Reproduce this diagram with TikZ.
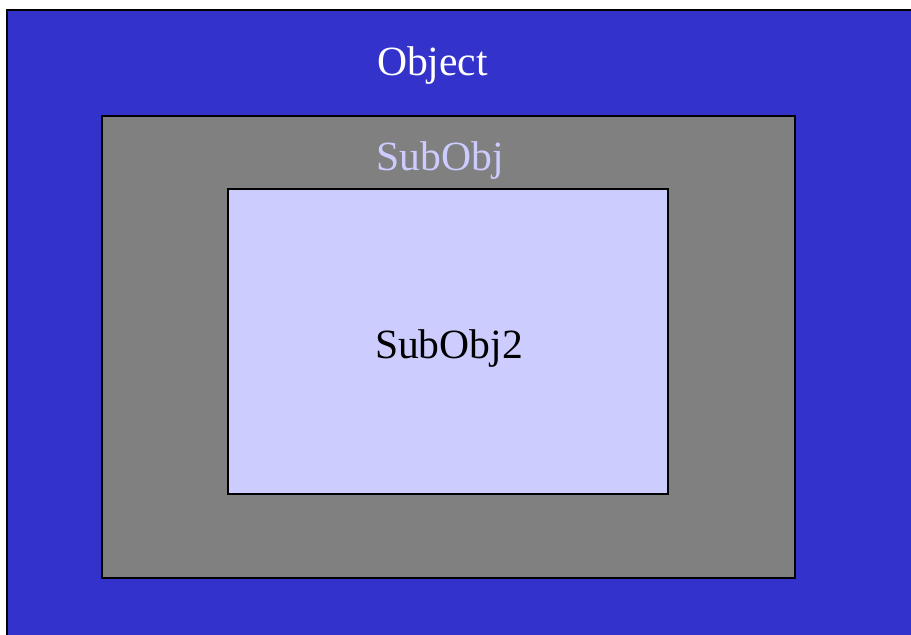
\documentclass[tikz,border=0pt]{standalone}
\usepackage{fontspec}
\setmainfont{Liberation Serif}
\usetikzlibrary{positioning}
\definecolor{objblue}{RGB}{51,51,204}
\definecolor{subgray}{RGB}{128,128,128}
\definecolor{sublav}{RGB}{204,204,255}
\tikzset{
  objbox/.style={rectangle, draw=black, line width=1.3pt, inner sep=0pt},
  objlabel/.style={anchor=base, inner sep=0pt, font=\fontsize{41.6}{48}\selectfont},
}
\begin{document}
\begin{tikzpicture}[x=1pt, y=-1pt]
  \useasboundingbox (0,0) rectangle (911,635);
  \clip (0,0) rectangle (911,635);
  % nested boxes, outermost first
  \node[objbox, fill=objblue, minimum width=913pt, minimum height=635pt] (object) at (463.5,327.5) {};
  \node[objbox, fill=subgray, minimum width=693pt, minimum height=462pt] (subobj) at (448.5,347) {};
  \node[objbox, fill=sublav, minimum width=440pt, minimum height=305pt] (subobjtwo) at (448,341.5) {};
  % labels
  \node[objlabel, text=white]  (objecttxt)    at (432.5,75)  {Object};
  \node[objlabel, text=sublav] (subobjtxt)    at (440,170)   {SubObj};
  \node[objlabel, text=black]  (subobjtwotxt) at (449,358)   {SubObj2};
\end{tikzpicture}
\end{document}
